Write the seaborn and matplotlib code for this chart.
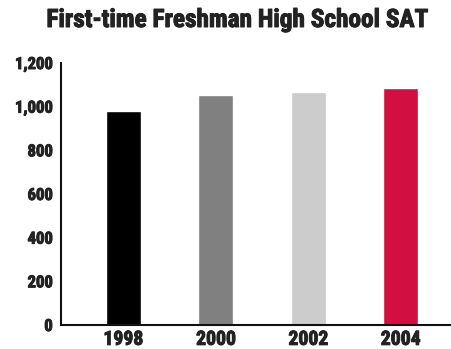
import matplotlib
matplotlib.use("Agg")
import matplotlib.pyplot as plt
import matplotlib.patheffects as pe
import seaborn as sns
import pandas as pd
from matplotlib.ticker import FuncFormatter

years = ["1998", "2000", "2002", "2004"]
sat_scores = [980, 1053, 1067, 1085]
bar_colors = ["#000000", "#808080", "#cccccc", "#d20f41"]
y_ticks = [0, 200, 400, 600, 800, 1000, 1200]
title = "First-time Freshman High School SAT"

sns.set_theme(style="white")
plt.rcParams["font.family"] = ["Roboto Condensed", "Liberation Sans Narrow",
                               "Roboto", "DejaVu Sans"]
plt.rcParams["font.weight"] = "bold"
plt.rcParams["font.stretch"] = "condensed"

df = pd.DataFrame({"year": years, "sat": sat_scores})

fig = plt.figure(figsize=(4.52, 3.49), dpi=100)
ax = fig.add_axes([61 / 452, 24 / 349, 391 / 452, 262 / 349])

sns.barplot(data=df, x="year", y="sat", hue="year", palette=bar_colors,
            width=0.38, legend=False, ax=ax, saturation=1)

ax.set_xlim(-0.677, 3.558)
ax.set_ylim(0, 1200)
ax.set_yticks(y_ticks)
ax.yaxis.set_major_formatter(FuncFormatter(lambda v, p: f"{int(v):,}"))
ax.set_xlabel("")
ax.set_ylabel("")

text_color = "#222222"
heavy = [pe.withStroke(linewidth=0.7, foreground=text_color)]

ax.tick_params(axis="y", direction="in", length=10, width=1.2, color="#111111",
               pad=6, labelsize=12, labelcolor=text_color)
ax.tick_params(axis="x", length=0, pad=3.5, labelsize=14.2, labelcolor=text_color)
for lbl in ax.get_xticklabels() + ax.get_yticklabels():
    lbl.set_fontweight("bold")
    lbl.set_path_effects(heavy)

for side in ["top", "right"]:
    ax.spines[side].set_visible(False)
for side in ["left", "bottom"]:
    ax.spines[side].set_color("#111111")
    ax.spines[side].set_linewidth(1.5)

fig.text(237 / 452, 1 - 20 / 349, title, ha="center", va="center",
         fontsize=18.2, fontweight="bold", color=text_color, path_effects=heavy)

fig.savefig("out.png", dpi=100)
